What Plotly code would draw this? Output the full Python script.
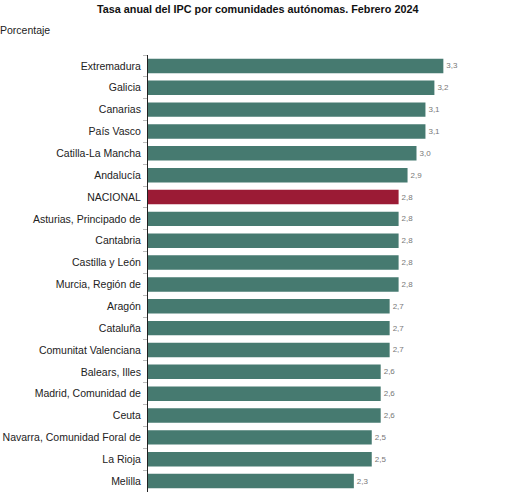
import plotly.graph_objects as go

regiones = ["Extremadura", "Galicia", "Canarias", "País Vasco", "Catilla-La Mancha",
            "Andalucía", "NACIONAL", "Asturias, Principado de", "Cantabria",
            "Castilla y León", "Murcia, Región de", "Aragón", "Cataluña",
            "Comunitat Valenciana", "Balears, Illes", "Madrid, Comunidad de",
            "Ceuta", "Navarra, Comunidad Foral de", "La Rioja", "Melilla"]
tasas = [3.3, 3.2, 3.1, 3.1, 3.0, 2.9, 2.8, 2.8, 2.8, 2.8, 2.8, 2.7, 2.7, 2.7,
         2.6, 2.6, 2.6, 2.5, 2.5, 2.3]

colores = ["#9b1b35" if r == "NACIONAL" else "#467a70" for r in regiones]
etiquetas = [f"{v:.1f}".replace(".", ",") for v in tasas]

fig = go.Figure(go.Bar(
    x=tasas, y=regiones, orientation="h",
    marker=dict(color=colores, line=dict(width=0)),
    text=etiquetas, textposition="outside", cliponaxis=False,
    textfont=dict(size=8, color="#777777"),
))

fig.update_layout(
    width=514, height=500,
    margin=dict(l=148, r=8, t=55, b=8),
    paper_bgcolor="white", plot_bgcolor="white",
    font=dict(family="Liberation Sans, Arial", size=10.5, color="#222222"),
    bargap=0.34, showlegend=False,
    annotations=[
        dict(text="<b>Tasa anual del IPC por comunidades autónomas. Febrero 2024</b>",
             x=0.5, xref="paper", y=1, yref="paper", yanchor="top", yshift=54,
             xshift=-70, showarrow=False, font=dict(size=10.8, color="#111111")),
        dict(text="Porcentaje", x=0, xref="paper", xanchor="left", xshift=-150,
             y=1, yref="paper", yanchor="top", yshift=33,
             showarrow=False, font=dict(size=10.5, color="#222222")),
    ],
)
fig.update_xaxes(range=[0, 4.0], visible=False, automargin=False)
fig.update_yaxes(autorange="reversed", showline=True, linecolor="#222222", linewidth=1,
                 ticks="outside", tickson="boundaries", ticklen=4, tickcolor="#bbbbbb",
                 showgrid=False, ticklabelstandoff=4, automargin=False)

# the page's default body margin would push the chart 8px off
fig.write_html("out.html", config={"displayModeBar": False},
               post_script="document.body.style.margin = '0';")
